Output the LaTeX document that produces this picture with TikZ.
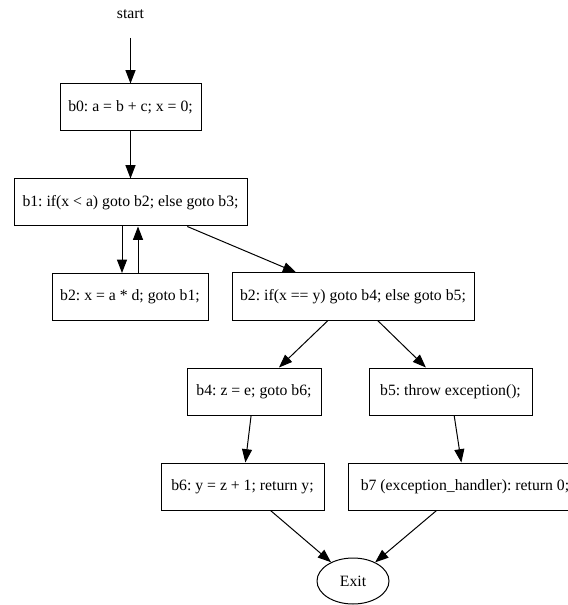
\documentclass[tikz,border=0pt]{standalone}
\usepackage{fontspec}
\setmainfont{Liberation Serif}
\usetikzlibrary{arrows.meta,calc,shapes.geometric}
\begin{document}
\frenchspacing
\begin{tikzpicture}[x=0.75pt,y=-0.75pt,
  every node/.style={font=\fontsize{11.8}{14}\selectfont, inner sep=0pt},
  block/.style={draw, line width=0.75pt, rectangle, minimum height=35.25pt},
  flow/.style={-{Triangle[length=10pt,width=7.5pt]}, line width=0.75pt}]
\useasboundingbox (0,0) rectangle (567,605);
% entry label
\node[minimum height=35.25pt] (start) at (130.5,14) {start};
% basic blocks
\node[block, minimum width=105.75pt] (b0) at (130.5,107.5) {b0: a = b + c; x = 0;};
\node[block, minimum width=174.75pt] (b1) at (130.5,202.5) {b1: if(x < a) goto b2; else goto b3;};
\node[block, minimum width=117pt] (b2a) at (130,297) {b2: x = a * d; goto b1;};
\node[block, minimum width=181.5pt] (b2b) at (353,296.5) {b2: if(x == y) goto b4; else goto b5;};
\node[block, minimum width=100.5pt] (b4) at (254,391.5) {b4: z = e; goto b6;};
\node[block, minimum width=122.25pt] (b5) at (450.5,391.5) {b5: throw exception();};
\node[block, minimum width=122.25pt] (b6) at (242.5,486.5) {b6: y = z + 1; return y;};
\node[block, minimum width=175.5pt] (b7) at (465,486.5) {b7 (exception\_handler): return 0;};
\node[draw, line width=0.75pt, ellipse, minimum width=54pt, minimum height=34.5pt] (exit) at (353,581) {Exit};
% control-flow edges
\draw[flow] (start) -- (b0);
\draw[flow] (b0) -- (b1);
\draw[flow] ($(b1.south)+(-8.5,0)$) -- ($(b2a.north)+(-8,0)$);
\draw[flow] ($(b2a.north)+(8,0)$) -- ($(b1.south)+(7.5,0)$);
\draw[flow] (b1) -- (b2b);
\draw[flow] (b2b) -- (b4);
\draw[flow] (b2b) -- (b5);
\draw[flow] (b4) -- (b6);
\draw[flow] (b5) -- (b7);
\draw[flow] (b6) -- (exit);
\draw[flow] (b7) -- (exit);
\end{tikzpicture}
\end{document}
